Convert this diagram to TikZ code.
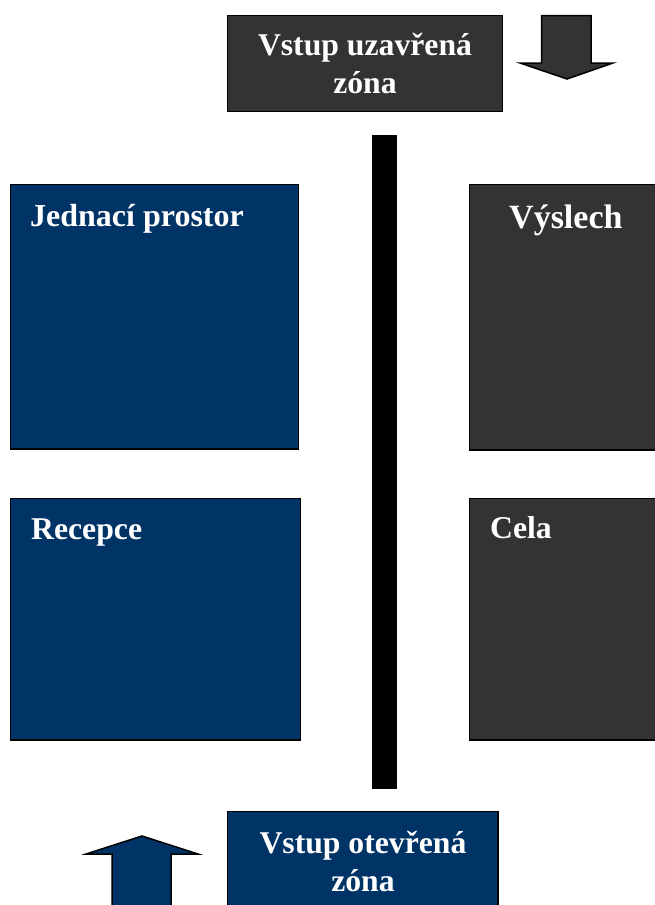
\documentclass[tikz,border=0pt]{standalone}
\usepackage{fontspec}
\setmainfont{Liberation Serif}
\definecolor{navy}{HTML}{003366}
\definecolor{dark}{HTML}{333333}
\tikzset{
  x=1pt,y=-1pt,
  zone/.style={draw=black,line width=1.5pt},
  navyzone/.style={zone,fill=navy},
  darkzone/.style={zone,fill=dark},
  label/.style={text=white,font=\fontsize{31.7}{38}\selectfont\bfseries,inner sep=0pt,anchor=base west},
  title/.style={text=white,font=\fontsize{31.7}{38}\selectfont\bfseries,inner sep=0pt,align=center,anchor=center},
}
\begin{document}
\begin{tikzpicture}
\useasboundingbox (0,0) rectangle (655,905);
\clip (0,0) rectangle (655,905);
\fill[black] (372,135) rectangle (397,789);
\draw[darkzone] (227.5,15.5) rectangle (502.5,111.5);
\node[title] (entryclosed) at (365,63.5) {Vstup uzavřená\\zóna};
\draw[darkzone,miter limit=10] (541.5,15.5) -- (591,15.5) -- (591,63) -- (613,63) -- (567,79) -- (520,63) -- (541.5,63) -- cycle;
\draw[navyzone] (10.5,184.5) rectangle (298.5,449);
\node[label,font=\fontsize{32}{38}\selectfont\bfseries] (jednaci) at (30,226) {Jednací prostor};
\draw[navyzone] (10.5,498.5) rectangle (300.5,740);
\node[label] (recepce) at (31,539) {Recepce};
\draw[darkzone] (469.5,184.5) rectangle (660,450);
\node[label,font=\fontsize{34}{38}\selectfont\bfseries] (vyslech) at (509,228) {Výslech};
\draw[darkzone] (469.5,498.5) rectangle (660,740);
\node[label] (cela) at (490,538.5) {Cela};
\draw[navyzone] (227.5,811.5) rectangle (498,915);
\node[title] (entryopen) at (363,861) {Vstup otevřená\\zóna};
\draw[navyzone,miter limit=10] (112,915) -- (112,854) -- (86,854) -- (142,836) -- (198,854) -- (171,854) -- (171,915) -- cycle;
\end{tikzpicture}
\end{document}
